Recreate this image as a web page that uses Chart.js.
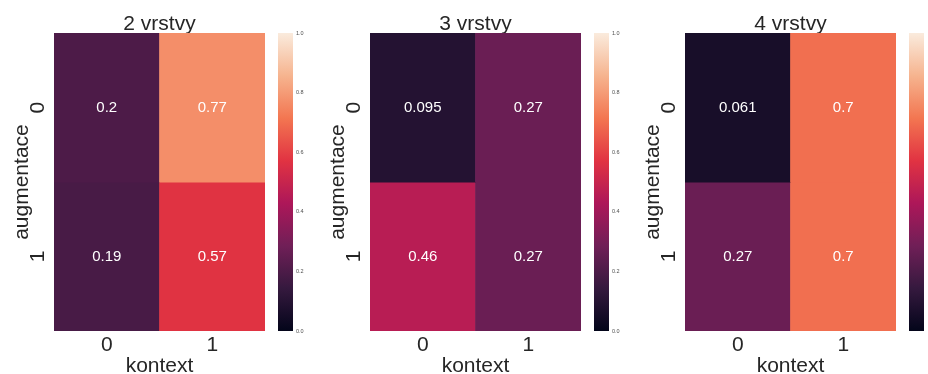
<!DOCTYPE html>
<html>
<head>
<meta charset="utf-8">
<script src="https://cdn.jsdelivr.net/npm/chart.js@4.4.1/dist/chart.umd.min.js"></script>
<style>
  html, body { margin: 0; padding: 0; background: #fff; overflow: hidden; width: 928px; height: 374px; }
  .box { position: absolute; top: 0; }
  canvas { display: block; }
</style>
</head>
<body>
<div class="box" style="left:0px"><canvas id="heat0" width="270" height="374"></canvas></div>
<div class="box" style="left:278px"><canvas id="bar0" width="40" height="374"></canvas></div>
<div class="box" style="left:316px"><canvas id="heat1" width="270" height="374"></canvas></div>
<div class="box" style="left:594px"><canvas id="bar1" width="40" height="374"></canvas></div>
<div class="box" style="left:631px"><canvas id="heat2" width="270" height="374"></canvas></div>
<div class="box" style="left:909px"><canvas id="bar2" width="40" height="374"></canvas></div>
<script>
// Heatmap axes
const kontext = ['0', '1'];        // columns (x)
const augmentace = ['0', '1'];     // rows (y), row 0 on top
const panelTitles = ['2 vrstvy', '3 vrstvy', '4 vrstvy'];

// Cell values, one row per augmentace level
const vrstvy2 = [[0.2, 0.77], [0.19, 0.57]];
const vrstvy3 = [[0.095, 0.27], [0.46, 0.27]];
const vrstvy4 = [[0.061, 0.7], [0.27, 0.7]];

// Colour bar range and ticks
const colorMin = 0;
const colorMax = 1;
const colorbarTicks = [0, 0.2, 0.4, 0.6, 0.8, 1.0];

const panels = [vrstvy2, vrstvy3, vrstvy4];
const showColorbarLabels = [true, true, false];

// "rocket" colour map stops
const ROCKET = [
  [0.0, [3, 5, 26]],
  [1 / 7, [53, 25, 62]],
  [2 / 7, [112, 31, 87]],
  [3 / 7, [173, 23, 89]],
  [4 / 7, [225, 51, 66]],
  [5 / 7, [243, 118, 81]],
  [6 / 7, [246, 180, 143]],
  [1.0, [250, 235, 221]]
];

function rocket(v) {
  const t = Math.min(1, Math.max(0, (v - colorMin) / (colorMax - colorMin)));
  for (let i = 1; i < ROCKET.length; i++) {
    const [p1, c1] = ROCKET[i];
    const [p0, c0] = ROCKET[i - 1];
    if (t <= p1) {
      const f = (t - p0) / (p1 - p0);
      const c = c0.map((a, k) => Math.round(a + f * (c1[k] - a)));
      return `rgb(${c[0]},${c[1]},${c[2]})`;
    }
  }
  const c = ROCKET[ROCKET.length - 1][1];
  return `rgb(${c[0]},${c[1]},${c[2]})`;
}

function fmt(v) {
  return String(parseFloat(v.toPrecision(2)));
}

const FAMILY = '"Liberation Sans", Arial, sans-serif';
const INK = '#262626';
const BIG = 21;

// Writes the value inside each cell and the rotated row labels
const cellLabels = {
  id: 'cellLabels',
  afterDatasetsDraw(chart) {
    const ctx = chart.ctx;
    ctx.save();
    ctx.fillStyle = '#ffffff';
    ctx.font = `15px ${FAMILY}`;
    ctx.textAlign = 'center';
    ctx.textBaseline = 'middle';
    chart.data.datasets.forEach((ds, di) => {
      chart.getDatasetMeta(di).data.forEach((el, j) => {
        const y = (el.y + el.base) / 2;
        ctx.fillText(fmt(ds.values[j]), el.x, y);
      });
    });
    ctx.restore();

    const ys = chart.scales.y;
    ctx.save();
    ctx.fillStyle = INK;
    ctx.font = `${BIG}px ${FAMILY}`;
    ctx.textAlign = 'center';
    ctx.textBaseline = 'middle';
    augmentace.forEach((lab, r) => {
      ctx.save();
      ctx.translate(ys.right - 16, ys.getPixelForValue(r + 0.5));
      ctx.rotate(-Math.PI / 2);
      ctx.fillText(lab, 0, 0);
      ctx.restore();
    });
    ctx.restore();
  }
};

function heatmap(id, title, values) {
  const datasets = augmentace.map((row, r) => ({
    label: row,
    values: values[r],
    data: kontext.map(() => [r, r + 1]),
    backgroundColor: values[r].map(rocket),
    borderWidth: 0
  }));
  return new Chart(document.getElementById(id), {
    type: 'bar',
    data: { labels: kontext, datasets },
    plugins: [cellLabels],
    options: {
      responsive: false,
      animation: false,
      devicePixelRatio: 1,
      layout: { padding: { top: 13, right: 5, left: 0, bottom: 0 } },
      datasets: { bar: { grouped: false, barPercentage: 1, categoryPercentage: 1 } },
      scales: {
        x: {
          grid: { display: false, drawTicks: false },
          border: { display: false },
          ticks: { font: { family: FAMILY, size: BIG }, color: INK, padding: 2 },
          title: { display: true, text: 'kontext', font: { family: FAMILY, size: BIG }, color: INK, padding: { top: 0, bottom: -5 } },
          afterFit(s) { s.height = 43; }
        },
        y: {
          min: 0, max: augmentace.length, reverse: true,
          grid: { display: false, drawTicks: false },
          border: { display: false },
          ticks: { display: false },
          title: { display: true, text: 'augmentace', font: { family: FAMILY, size: BIG }, color: INK, padding: { top: 10, bottom: 0 } },
          afterFit(s) { s.width = 54; }
        }
      },
      plugins: {
        legend: { display: false },
        tooltip: { enabled: false },
        title: {
          display: true, text: title, fullSize: false,
          font: { family: FAMILY, size: BIG, weight: 'normal', lineHeight: 1.1 }, color: INK,
          padding: { top: 0, bottom: -3 }
        }
      }
    }
  });
}

function colorbar(id, showLabels) {
  return new Chart(document.getElementById(id), {
    type: 'bar',
    data: {
      labels: [''],
      datasets: [{
        data: [[colorMin, colorMax]],
        borderWidth: 0,
        backgroundColor(c) {
          const chart = c.chart;
          if (!chart.chartArea) return '#000';
          const y = chart.scales.y;
          const g = chart.ctx.createLinearGradient(0, y.getPixelForValue(colorMin), 0, y.getPixelForValue(colorMax));
          ROCKET.forEach(([p, col]) => g.addColorStop(p, `rgb(${col[0]},${col[1]},${col[2]})`));
          return g;
        }
      }]
    },
    options: {
      responsive: false,
      animation: false,
      devicePixelRatio: 1,
      layout: { padding: { top: 33, right: 0, left: 0, bottom: 43 } },
      datasets: { bar: { barPercentage: 1, categoryPercentage: 1 } },
      scales: {
        x: { display: false },
        y: {
          position: 'right',
          min: colorMin, max: colorMax,
          grid: { display: false, drawTicks: false },
          border: { display: false },
          afterBuildTicks(s) { s.ticks = colorbarTicks.map(v => ({ value: v })); },
          ticks: {
            display: showLabels,
            font: { family: FAMILY, size: 5.5 }, color: '#4d4d4d', padding: 3,
            callback: v => Number(v).toFixed(1)
          },
          afterFit(s) { s.width = 25; }
        }
      },
      plugins: { legend: { display: false }, tooltip: { enabled: false } }
    }
  });
}

panels.forEach((vals, i) => {
  heatmap('heat' + i, panelTitles[i], vals);
  colorbar('bar' + i, showColorbarLabels[i]);
});
</script>
</body>
</html>
